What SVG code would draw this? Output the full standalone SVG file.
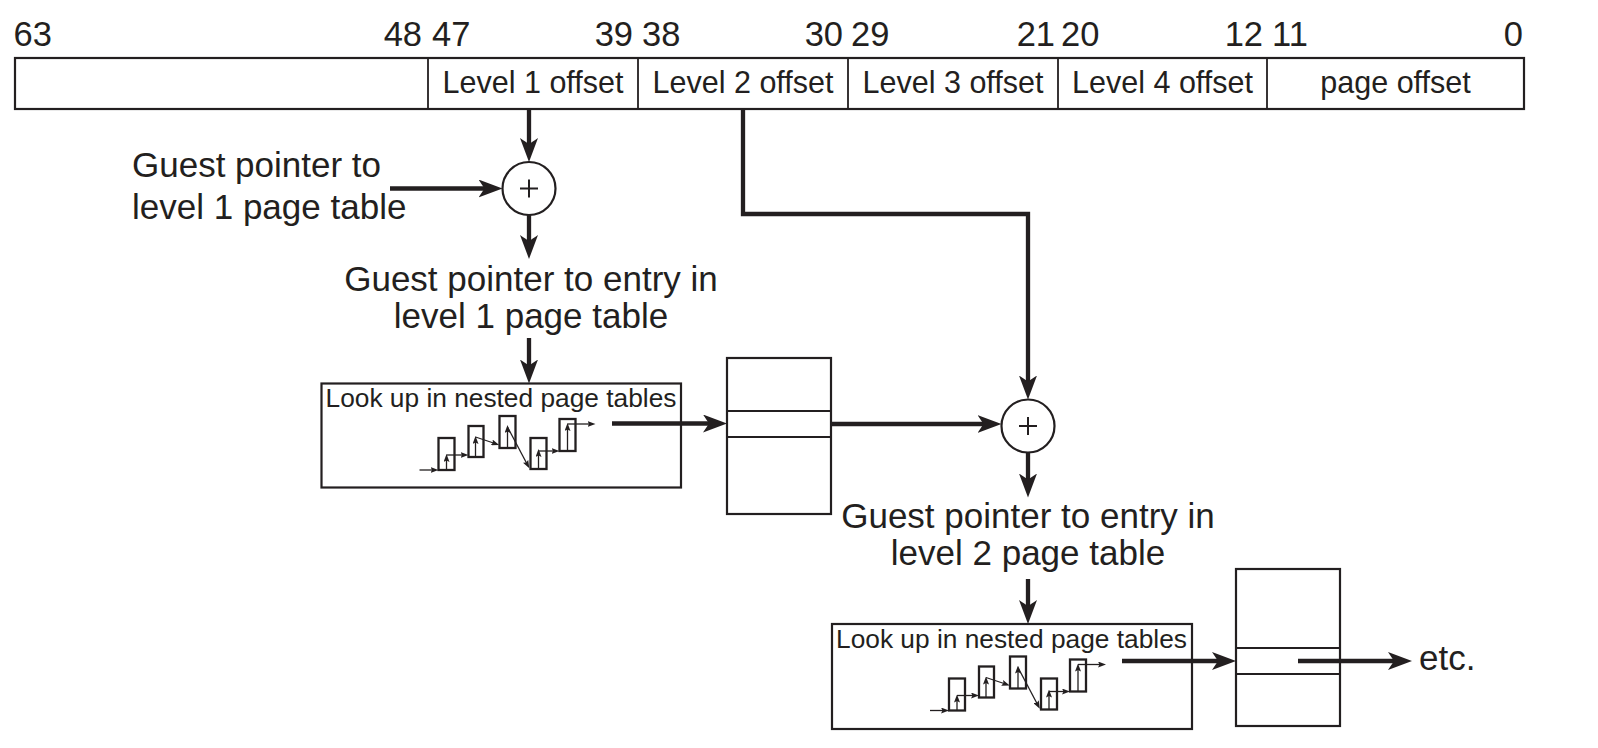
<svg xmlns="http://www.w3.org/2000/svg" width="1598" height="748" viewBox="0 0 1598 748">
<style>
text{font-family:"Liberation Sans",Arial,sans-serif;fill:#231f20}
.num{font-size:34.5px}
.cell{font-size:30.5px}
.lab{font-size:35px}
.lk{font-size:26.3px}
.box{fill:#fff;stroke:#231f20;stroke-width:2.2}
.div{fill:none;stroke:#231f20;stroke-width:1.8}
.thick{fill:none;stroke:#231f20;stroke-width:4.3}
.thin{fill:none;stroke:#231f20;stroke-width:1.3}
.mb{fill:none;stroke:#231f20;stroke-width:2.3}
.plus{fill:none;stroke:#231f20;stroke-width:2}
</style>
<defs>
<marker id="ah" markerUnits="userSpaceOnUse" viewBox="0 0 24 18" markerWidth="24" markerHeight="18" refX="8" refY="9" orient="auto">
<path d="M24,9 L0,0 Q4,6 6,9 Q4,12 0,18 Z" fill="#231f20"/>
</marker>
<marker id="sah" markerUnits="userSpaceOnUse" viewBox="0 0 8 6" markerWidth="8" markerHeight="6" refX="2" refY="3" orient="auto">
<path d="M0,0 L8,3 L0,6 L1.5,3 Z" fill="#231f20"/>
</marker>
<g id="mini">
<rect class="mb" x="117" y="54" width="16" height="32"/>
<rect class="mb" x="147" y="42" width="15" height="31"/>
<rect class="mb" x="178" y="32" width="16" height="32"/>
<rect class="mb" x="209" y="54" width="16" height="31"/>
<rect class="mb" x="238" y="35" width="16" height="32"/>
<path class="thin" d="M98,86 L111,86" marker-end="url(#sah)"/>
<path class="thin" d="M125,86 L125,76" marker-end="url(#sah)"/>
<path class="thin" d="M125,71 L141,71" marker-end="url(#sah)"/>
<path class="thin" d="M154,73 L154,58" marker-end="url(#sah)"/>
<path class="thin" d="M154,53 L172,59" marker-end="url(#sah)"/>
<path class="thin" d="M186,64 L186,47" marker-end="url(#sah)"/>
<path class="thin" d="M186,43 L205,79" marker-end="url(#sah)"/>
<path class="thin" d="M217,85 L217,71" marker-end="url(#sah)"/>
<path class="thin" d="M217,67 L232,67" marker-end="url(#sah)"/>
<path class="thin" d="M246,67 L246,45" marker-end="url(#sah)"/>
<path class="thin" d="M246,40 L268,40" marker-end="url(#sah)"/>
</g>
</defs>
<rect width="1598" height="748" fill="#fff"/>

<g id="address">
<rect class="box" x="15" y="58" width="1509" height="51"/>
<path class="div" d="M428,58V109M638,58V109M848,58V109M1058,58V109M1267,58V109"/>
<text class="num" x="13.5" y="46">63</text>
<text class="num" x="422" y="46" text-anchor="end">48</text>
<text class="num" x="432" y="46">47</text>
<text class="num" x="633" y="46" text-anchor="end">39</text>
<text class="num" x="642" y="46">38</text>
<text class="num" x="843" y="46" text-anchor="end">30</text>
<text class="num" x="851" y="46">29</text>
<text class="num" x="1055" y="46" text-anchor="end">21</text>
<text class="num" x="1061" y="46">20</text>
<text class="num" x="1263" y="46" text-anchor="end">12</text>
<text class="num" x="1272" y="46">11</text>
<text class="num" x="1523" y="46" text-anchor="end">0</text>
<text class="cell" x="533" y="92.5" text-anchor="middle">Level 1 offset</text>
<text class="cell" x="743" y="92.5" text-anchor="middle">Level 2 offset</text>
<text class="cell" x="953" y="92.5" text-anchor="middle">Level 3 offset</text>
<text class="cell" x="1162.5" y="92.5" text-anchor="middle">Level 4 offset</text>
<text class="cell" x="1395.5" y="92.5" text-anchor="middle">page offset</text>
</g>

<g id="plus1">
<circle class="box" cx="529" cy="188.5" r="26.5"/>
<path class="plus" d="M520,188.5H538M529,179.5V197.5"/>
</g>
<g id="guest-l1">
<text class="lab" x="132" y="177">Guest pointer to</text>
<text class="lab" x="132" y="219">level 1 page table</text>
</g>
<g id="entry-l1">
<text class="lab" x="531" y="291" text-anchor="middle">Guest pointer to entry in</text>
<text class="lab" x="531" y="328" text-anchor="middle">level 1 page table</text>
</g>
<g id="lookup1">
<rect class="box" x="321.5" y="383.5" width="359.5" height="104"/>
<text class="lk" x="325.5" y="407">Look up in nested page tables</text>
<use href="#mini" x="321.5" y="384"/>
</g>
<g id="table1">
<rect class="box" x="727" y="358" width="104" height="156"/>
<path class="div" d="M727,411H831M727,437H831"/>
</g>
<g id="plus2">
<circle class="box" cx="1028" cy="426" r="26.5"/>
<path class="plus" d="M1019,426H1037M1028,417V435"/>
</g>
<g id="entry-l2">
<text class="lab" x="1028" y="528" text-anchor="middle">Guest pointer to entry in</text>
<text class="lab" x="1028" y="565" text-anchor="middle">level 2 page table</text>
</g>
<g id="lookup2">
<rect class="box" x="832" y="624" width="360" height="105"/>
<text class="lk" x="836" y="648">Look up in nested page tables</text>
<use href="#mini" x="832" y="624.5"/>
</g>
<g id="table2">
<rect class="box" x="1236" y="569" width="104" height="157"/>
<path class="div" d="M1236,648H1340M1236,674H1340"/>
</g>
<g id="etc">
<text class="lab" x="1419" y="670">etc.</text>
</g>

<g id="connectors">
<path class="thick" d="M529,109V146" marker-end="url(#ah)"/>
<path class="thick" d="M390,188.5H486.5" marker-end="url(#ah)"/>
<path class="thick" d="M529,215V243" marker-end="url(#ah)"/>
<path class="thick" d="M529,338V367.5" marker-end="url(#ah)"/>
<path class="thick" d="M612,423.5H711" marker-end="url(#ah)"/>
<path class="thick" d="M831,424H985.5" marker-end="url(#ah)"/>
<path class="thick" d="M743,109V214H1028V383.5" marker-end="url(#ah)"/>
<path class="thick" d="M1028,452.5V481.5" marker-end="url(#ah)"/>
<path class="thick" d="M1028,579V608" marker-end="url(#ah)"/>
<path class="thick" d="M1122,661H1220" marker-end="url(#ah)"/>
<path class="thick" d="M1298,661H1396" marker-end="url(#ah)"/>
</g>
</svg>
